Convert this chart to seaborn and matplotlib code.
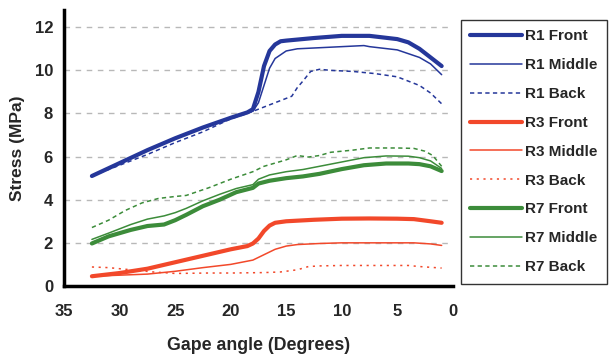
import matplotlib
matplotlib.use("Agg")
import matplotlib.pyplot as plt
import seaborn as sns
import pandas as pd

# ---- data (gape angle in degrees, stress in MPa) ----
r1_front_x = [32.5, 30, 27.5, 25, 22.5, 20, 18.5, 18, 17.5, 17, 16.5, 16, 15.5, 15, 12.5, 10, 7.5, 5, 4, 3, 2, 1]
r1_front_y = [5.1, 5.7, 6.3, 6.85, 7.35, 7.8, 8.05, 8.2, 9.0, 10.2, 10.9, 11.2, 11.35, 11.38, 11.5, 11.6, 11.6, 11.45, 11.3, 11.0, 10.6, 10.2]
r1_mid_x = [32.5, 30, 27.5, 25, 22.5, 20, 18.5, 18, 17.5, 17, 16.5, 16, 15, 14, 12, 10, 8, 7.5, 5, 3, 2, 1]
r1_mid_y = [5.1, 5.7, 6.3, 6.85, 7.35, 7.8, 8.05, 8.1, 8.5, 9.3, 10.1, 10.55, 10.9, 11.0, 11.05, 11.1, 11.15, 11.1, 10.95, 10.6, 10.3, 9.8]
r1_back_x = [32.5, 30, 27.5, 25, 22.5, 20, 18.5, 17.5, 16, 15, 14.5, 14, 13.5, 12.8, 12, 11, 9, 7, 5, 3, 2, 1]
r1_back_y = [5.1, 5.6, 6.1, 6.65, 7.15, 7.75, 8.0, 8.2, 8.5, 8.7, 8.8, 9.2, 9.5, 9.95, 10.05, 10.0, 9.95, 9.85, 9.7, 9.3, 8.95, 8.45]

r3_front_x = [32.5, 30, 27.5, 25, 22.5, 20, 18.5, 18, 17.5, 17, 16.5, 16, 15, 12.5, 10, 7.5, 5, 3.5, 2, 1]
r3_front_y = [0.45, 0.6, 0.8, 1.1, 1.4, 1.7, 1.85, 1.97, 2.2, 2.55, 2.8, 2.93, 3.0, 3.07, 3.12, 3.13, 3.12, 3.1, 3.0, 2.93]
r3_mid_x = [32.5, 30, 27.5, 25, 22.5, 20, 18, 17, 16, 15, 14, 12, 10, 7.5, 5, 3.5, 2, 1]
r3_mid_y = [0.45, 0.5, 0.55, 0.68, 0.85, 1.0, 1.2, 1.45, 1.7, 1.85, 1.92, 1.97, 2.0, 2.0, 2.0, 2.0, 1.95, 1.88]
r3_back_x = [32.5, 31, 29, 27, 25, 22, 20, 17, 15.5, 14, 13, 12, 10, 7, 4, 3, 1]
r3_back_y = [0.88, 0.85, 0.75, 0.65, 0.58, 0.6, 0.6, 0.62, 0.65, 0.75, 0.9, 0.93, 0.95, 0.95, 0.95, 0.9, 0.83]

r7_front_x = [32.5, 31, 29, 27.5, 26, 25, 24, 22.5, 21, 19.5, 18, 17.5, 16.5, 15, 13.5, 12, 10, 8, 6, 4, 3, 2, 1]
r7_front_y = [1.97, 2.3, 2.6, 2.78, 2.85, 3.05, 3.3, 3.7, 4.0, 4.35, 4.55, 4.75, 4.88, 5.0, 5.08, 5.2, 5.42, 5.6, 5.68, 5.68, 5.65, 5.55, 5.33]
r7_mid_x = [32.5, 31, 29, 27.5, 26, 25, 24, 22.5, 21, 19.5, 18, 17.5, 16.5, 15, 13.5, 12, 10, 8, 6, 4, 3, 2, 1]
r7_mid_y = [2.16, 2.45, 2.85, 3.1, 3.25, 3.4, 3.6, 3.95, 4.25, 4.52, 4.7, 4.95, 5.15, 5.3, 5.4, 5.55, 5.75, 5.95, 6.03, 6.02, 5.95, 5.8, 5.45]
r7_back_x = [32.5, 31, 29.5, 28, 26.5, 25, 24, 22, 20, 18, 17, 16, 15, 14, 13, 12, 11, 9, 7.5, 5, 3.5, 2.5, 1.8, 1]
r7_back_y = [2.71, 3.05, 3.5, 3.85, 4.06, 4.15, 4.2, 4.55, 4.95, 5.3, 5.55, 5.7, 5.85, 6.05, 5.98, 6.05, 6.2, 6.3, 6.4, 6.4, 6.38, 6.25, 6.05, 5.55]

x_ticks = [35, 30, 25, 20, 15, 10, 5, 0]
y_ticks = [0, 2, 4, 6, 8, 10, 12]

series = [
    ("R1 Front", r1_front_x, r1_front_y),
    ("R1 Middle", r1_mid_x, r1_mid_y),
    ("R1 Back", r1_back_x, r1_back_y),
    ("R3 Front", r3_front_x, r3_front_y),
    ("R3 Middle", r3_mid_x, r3_mid_y),
    ("R3 Back", r3_back_x, r3_back_y),
    ("R7 Front", r7_front_x, r7_front_y),
    ("R7 Middle", r7_mid_x, r7_mid_y),
    ("R7 Back", r7_back_x, r7_back_y),
]

blue = "#25379a"
red = "#f2482a"
green = "#3c8c3a"
thick, thin = 3.0, 1.1
styles = {
    "R1 Front": dict(color=blue, lw=thick, ls="-"),
    "R1 Middle": dict(color=blue, lw=thin, ls="-"),
    "R1 Back": dict(color=blue, lw=thin, ls=(0, (2.8, 2.2))),
    "R3 Front": dict(color=red, lw=thick, ls="-"),
    "R3 Middle": dict(color=red, lw=thin, ls="-"),
    "R3 Back": dict(color=red, lw=thin, ls=(0, (1.4, 3.0))),
    "R7 Front": dict(color=green, lw=thick, ls="-"),
    "R7 Middle": dict(color=green, lw=thin, ls="-"),
    "R7 Back": dict(color=green, lw=thin, ls=(0, (2.8, 2.2))),
}

frames = []
for name, xs, ys in series:
    frames.append(pd.DataFrame({"angle": xs, "stress": ys, "series": name}))
df = pd.concat(frames, ignore_index=True)

sns.set_theme(style="white")
plt.rcParams["font.family"] = ["Liberation Sans", "DejaVu Sans"]

fig = plt.figure(figsize=(6.11, 3.57), dpi=100)
ax = fig.add_axes([0.105, 0.199, 0.636, 0.773])

for name, _, _ in series:
    sub = df[df["series"] == name]
    st = styles[name]
    sns.lineplot(data=sub, x="angle", y="stress", ax=ax, color=st["color"],
                 linewidth=st["lw"], linestyle=st["ls"], label=name,
                 estimator=None, sort=False)

ax.set_xlim(35, 0)
ax.set_ylim(0, 12.8)
ax.set_xticks(x_ticks)
ax.set_yticks(y_ticks)
ax.set_xticklabels([str(t) for t in x_ticks], fontsize=12, fontweight="bold")
ax.set_yticklabels([str(t) for t in y_ticks], fontsize=12, fontweight="bold")
ax.tick_params(axis="x", which="major", direction="out", length=4, width=2, color="black", pad=9)
ax.tick_params(axis="y", length=0, pad=8)

for yv in y_ticks[1:]:
    ax.axhline(yv, color="#b8b8b8", lw=1.0, ls=(0, (4, 4)), zorder=0)

for s in ["top", "right"]:
    ax.spines[s].set_visible(False)
for s in ["left", "bottom"]:
    ax.spines[s].set_color("black")
    ax.spines[s].set_linewidth(2.5)

ax.set_xlabel("Gape angle (Degrees)", fontsize=12.8, fontweight="bold", labelpad=13)
ax.set_ylabel("Stress (MPa)", fontsize=12.5, fontweight="bold", labelpad=7)

handles, labels = ax.get_legend_handles_labels()
ax.legend_.remove()
leg = fig.legend(handles, labels, loc="upper left",
                 bbox_to_anchor=(461 / 611, 1 - 20 / 357),
                 prop={"weight": "bold", "size": 11},
                 frameon=True, fancybox=False, edgecolor="black",
                 handlelength=3.4, labelspacing=0.97, borderpad=0.62,
                 handletextpad=0.2, borderaxespad=0)
leg.get_frame().set_linewidth(1.0)

fig.savefig("out.png", dpi=100)
